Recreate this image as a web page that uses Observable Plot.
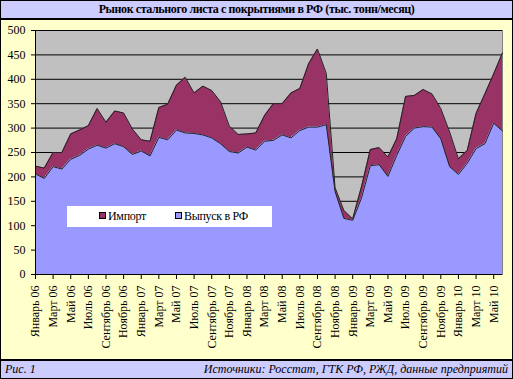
<!DOCTYPE html>
<html>
<head>
<meta charset="utf-8">
<script src="https://cdn.jsdelivr.net/npm/d3@7"></script>
<script src="https://cdn.jsdelivr.net/npm/@observablehq/plot@0.6"></script>
<style>
  body { margin: 0; background: #fff; }
  #wrap { position: relative; width: 513px; height: 379px; font-family: "Times New Roman", "Liberation Serif", serif; }
  #title { position: absolute; left: 0; top: 0; width: 511px; height: 17px; background: #ccccff; border: 1px solid #000;
           text-align: center; font-weight: bold; font-size: 12px; letter-spacing: -0.4px; line-height: 17px; color: #000; }
  #panel { position: absolute; left: 0; top: 19px; width: 511px; height: 339px; background: #ffffcc; border: 1px solid #000; }
  #chart { position: absolute; left: 0; top: 20px; }
  #legend { position: absolute; left: 67px; top: 206px; width: 205px; height: 21px; background: #fff; font-size: 12px; letter-spacing: -0.3px; }
  .item { position: absolute; top: 4px; line-height: 13px; white-space: nowrap; }
  .sw { display: inline-block; width: 5px; height: 5px; border: 1px solid #000; margin-right: 2px; vertical-align: 1px; }
  #footer { position: absolute; left: 0; top: 360px; width: 511px; height: 17px; background: #ccccff; border: 1px solid #000;
            font-style: italic; font-size: 12px; line-height: 17px; }
  #footer .l { position: absolute; left: 4px; }
  #footer .r { position: absolute; right: 4px; }
</style>
</head>
<body>
<div id="wrap">
  <div id="title">Рынок стального листа с покрытиями в РФ (тыс. тонн/месяц)</div>
  <div id="panel"></div>
  <div id="chart"></div>
  <div id="legend"></div>
  <div id="footer"><span class="l">Рис. 1</span><span class="r">Источники: Росстат, ГТК РФ, РЖД, данные предприятий</span></div>
</div>
<script>
// Monthly data, January 2006 .. June 2010
const tickLabels = ["Январь 06","Март 06","Май 06","Июль 06","Сентябрь 06","Ноябрь 06",
  "Январь 07","Март 07","Май 07","Июль 07","Сентябрь 07","Ноябрь 07",
  "Январь 08","Март 08","Май 08","Июль 08","Сентябрь 08","Ноябрь 08",
  "Январь 09","Март 09","Май 09","Июль 09","Сентябрь 09","Ноябрь 09",
  "Январь 10","Март 10","Май 10"];
const production = [206,197,221,216,236,244,257,265,259,268,262,246,
  253,243,281,276,296,290,289,286,280,268,252,249,
  261,255,273,275,286,280,295,302,302,307,170,115,
  111,157,223,225,201,244,283,300,303,302,278,221,
  205,228,258,268,310,294];
const imports = [16,21,29,34,52,52,48,75,53,67,69,52,
  23,30,61,73,92,114,83,100,97,86,52,38,
  27,35,53,75,64,92,86,130,160,105,8,16,
  3,23,33,35,40,34,82,67,76,68,62,71,
  32,26,72,102,101,160];
const seriesNames = ["Импорт", "Выпуск в РФ"];
const seriesColors = ["#993366", "#9999ff"];
const yTicks = [0,50,100,150,200,250,300,350,400,450,500];

const rows = production.map((p, i) => ({i, prod: p, total: p + imports[i]}));
const tickIdx = tickLabels.map((_, k) => k * 2);

const chart = Plot.plot({
  width: 513,
  height: 339,
  marginLeft: 35,
  marginRight: 11,
  marginTop: 10,
  marginBottom: 85,
  style: {fontFamily: "'Times New Roman','Liberation Serif',serif", fontSize: "12px", background: "transparent", color: "#000"},
  x: {type: "linear", domain: [0, production.length - 1]},
  y: {domain: [0, 500]},
  marks: [
    Plot.frame({fill: "#c0c0c0", stroke: "#808080"}),
    Plot.ruleY(yTicks.filter(v => v > 0), {stroke: "#000", strokeWidth: 1}),
    Plot.areaY(rows, {x: "i", y1: "prod", y2: "total", fill: seriesColors[0]}),
    Plot.areaY(rows, {x: "i", y1: 0, y2: "prod", fill: seriesColors[1]}),
    Plot.lineY(rows, {x: "i", y: "total", stroke: "#222", strokeWidth: 1}),
    Plot.lineY(rows, {x: "i", y: "prod", stroke: "#222", strokeWidth: 1}),
    Plot.ruleY([0], {stroke: "#000"}),
    Plot.ruleX([0], {stroke: "#000"}),
    Plot.axisY({ticks: yTicks, tickSize: 4, tickPadding: 6, label: null, fontSize: 12}),
    Plot.axisX({ticks: tickIdx, tickFormat: i => tickLabels[i / 2], tickRotate: -90, tickSize: 5, tickPadding: 6, label: null, fontSize: 12})
  ]
});
document.getElementById("chart").appendChild(chart);

const legend = document.getElementById("legend");
const legendX = [99, 175];
seriesNames.forEach((name, k) => {
  const d = document.createElement("div");
  d.className = "item";
  d.style.left = (legendX[k] - 67) + "px";
  d.innerHTML = `<span class="sw" style="background:${seriesColors[k]}"></span>${name}`;
  legend.appendChild(d);
});
</script>
</body>
</html>
